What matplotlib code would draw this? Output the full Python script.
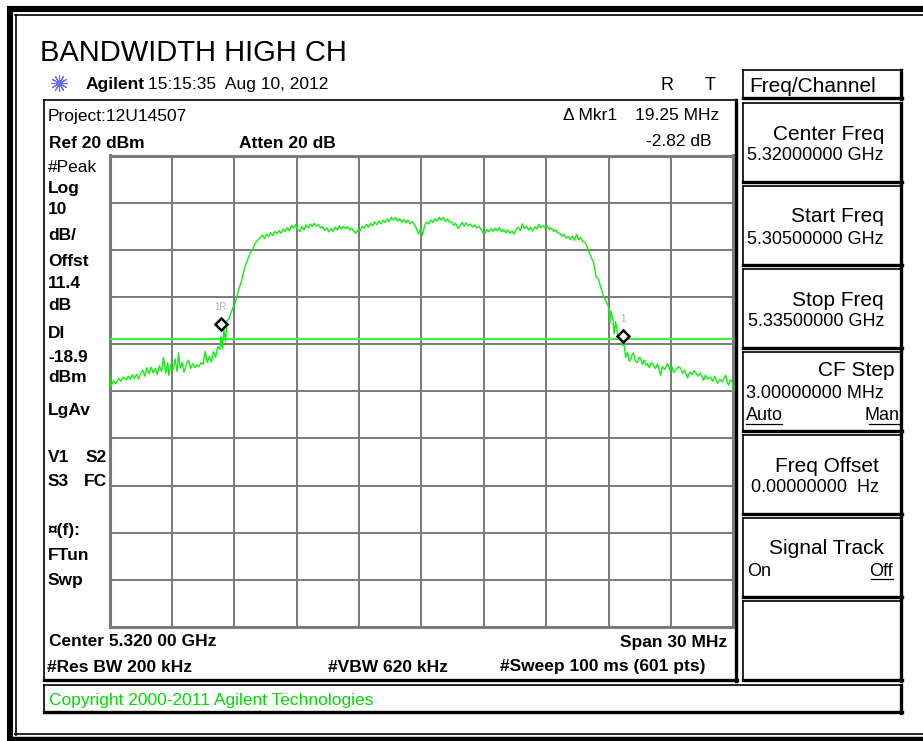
# %% Imports

import matplotlib

matplotlib.use("Agg")
import matplotlib.pyplot as plt

plt.rcParams["font.family"] = ["Liberation Sans", "DejaVu Sans"]

# %% Trace data (offset from start freq in MHz, level in dBm)

START_GHZ = 5.305
SPAN_MHZ = 30
REF_DBM = 20
DB_PER_DIV = 10
DISPLAY_LINE_DBM = -18.9

freq_mhz = [
    0.00, 0.05, 0.20, 0.30, 0.45, 0.55, 0.65, 0.80, 0.90, 1.00,
    1.10, 1.20, 1.30, 1.40, 1.50, 1.60, 1.70, 1.80, 1.90, 2.00,
    2.10, 2.20, 2.30, 2.40, 2.50, 2.60, 2.70, 2.80, 2.85, 2.95,
    3.05, 3.15, 3.25, 3.32, 3.40, 3.50, 3.58, 3.70, 3.80, 3.90,
    4.00, 4.10, 4.20, 4.30, 4.40, 4.50, 4.60, 4.70, 4.80, 4.90,
    5.00, 5.10, 5.20, 5.30, 5.36, 5.42, 5.50, 5.58, 5.65, 5.75,
    5.85, 5.96, 6.05, 6.20, 6.35, 6.50, 6.63, 6.75, 6.88, 7.00,
    7.12, 7.25, 7.36, 7.45, 7.55, 7.65, 7.75, 7.85, 7.95, 8.05,
    8.15, 8.25, 8.35, 8.45, 8.55, 8.65, 8.75, 8.85, 8.95, 9.05,
    9.15, 9.25, 9.35, 9.45, 9.55, 9.65, 9.75, 9.85, 9.95, 10.05,
    10.15, 10.25, 10.35, 10.45, 10.55, 10.65, 10.75, 10.85, 10.95, 11.05,
    11.15, 11.25, 11.35, 11.45, 11.55, 11.65, 11.75, 11.85, 11.95, 12.05,
    12.15, 12.25, 12.35, 12.45, 12.55, 12.65, 12.75, 12.85, 12.95, 13.05,
    13.15, 13.25, 13.35, 13.45, 13.55, 13.65, 13.75, 13.85, 13.95, 14.05,
    14.15, 14.25, 14.35, 14.45, 14.55, 14.65, 14.75, 14.85, 14.95, 15.05,
    15.15, 15.25, 15.35, 15.45, 15.55, 15.65, 15.75, 15.85, 15.95, 16.05,
    16.15, 16.25, 16.35, 16.45, 16.55, 16.65, 16.75, 16.85, 16.95, 17.05,
    17.15, 17.25, 17.35, 17.45, 17.55, 17.65, 17.75, 17.85, 17.95, 18.05,
    18.15, 18.25, 18.35, 18.45, 18.55, 18.65, 18.75, 18.85, 18.95, 19.05,
    19.15, 19.25, 19.35, 19.45, 19.55, 19.65, 19.75, 19.85, 19.95, 20.05,
    20.15, 20.25, 20.35, 20.45, 20.55, 20.65, 20.75, 20.85, 20.95, 21.05,
    21.15, 21.25, 21.35, 21.45, 21.55, 21.65, 21.75, 21.85, 21.95, 22.05,
    22.15, 22.25, 22.35, 22.45, 22.55, 22.65, 22.75, 22.85, 22.95, 23.05,
    23.15, 23.27, 23.40, 23.50, 23.60, 23.70, 23.80, 23.90, 24.00, 24.06,
    24.10, 24.20, 24.26, 24.33, 24.42, 24.50, 24.57, 24.62, 24.66, 24.72,
    24.81, 24.90, 24.98, 25.05, 25.12, 25.19, 25.28, 25.38, 25.46, 25.53,
    25.62, 25.70, 25.80, 25.87, 25.95, 26.05, 26.15, 26.25, 26.35, 26.49,
    26.58, 26.70, 26.83, 26.95, 27.05, 27.12, 27.25, 27.35, 27.45, 27.55,
    27.65, 27.79, 27.90, 28.00, 28.10, 28.17, 28.30, 28.40, 28.56, 28.65,
    28.75, 28.89, 29.00, 29.10, 29.23, 29.35, 29.45, 29.55, 29.62, 29.70,
    29.76, 29.85, 29.95, 30.00,
]

level_dbm = [
    -25.9, -29.1, -27.8, -28.4, -27.3, -27.9, -27.0, -27.6, -26.8, -27.5,
    -26.5, -27.3, -26.4, -27.4, -26.2, -25.5, -26.8, -25.0, -26.3, -24.9,
    -26.1, -25.2, -26.4, -24.6, -25.8, -22.8, -26.2, -24.0, -26.6, -24.3,
    -25.5, -23.2, -25.8, -21.9, -25.1, -23.9, -26.0, -24.2, -23.4, -25.2,
    -24.1, -25.0, -24.4, -24.8, -23.9, -24.3, -21.5, -23.9, -22.6, -23.8,
    -21.6, -22.8, -20.5, -21.2, -18.4, -21.0, -17.0, -19.5, -15.0, -14.6,
    -13.2, -12.0, -11.2, -8.6, -6.5, -3.8, -2.2, -0.8, 0.0, 1.4,
    2.0, 2.6, 3.1, 2.4, 3.3, 2.8, 3.6, 3.0, 3.9, 3.4,
    4.1, 3.5, 4.4, 3.9, 4.7, 4.0, 5.2, 4.6, 5.4, 4.3,
    3.9, 4.9, 4.2, 5.3, 4.6, 5.5, 4.9, 5.6, 5.0, 5.4,
    4.6, 4.9, 4.1, 4.6, 3.8, 4.5, 3.9, 4.8, 4.2, 5.1,
    4.4, 5.0, 4.5, 4.9, 4.2, 4.6, 3.9, 3.5, 4.3, 4.0,
    5.0, 4.6, 5.4, 4.8, 5.6, 5.1, 5.9, 5.3, 6.1, 5.5,
    6.3, 5.8, 6.5, 6.0, 6.9, 6.3, 6.8, 6.1, 6.6, 5.9,
    6.4, 5.7, 6.3, 5.5, 6.0, 5.4, 4.6, 3.4, 4.5, 3.1,
    5.2, 5.9, 5.5, 6.3, 5.8, 6.6, 6.1, 6.9, 6.3, 6.8,
    6.0, 6.5, 5.8, 5.9, 5.2, 5.6, 4.5, 5.1, 5.8, 5.0,
    5.7, 5.1, 5.5, 4.8, 5.3, 4.6, 5.0, 4.4, 3.7, 3.5,
    4.3, 3.8, 4.5, 3.9, 4.6, 4.0, 4.7, 3.8, 4.3, 3.6,
    4.2, 3.5, 4.0, 3.3, 4.4, 4.8, 4.1, 5.5, 4.5, 5.0,
    4.2, 4.8, 4.0, 4.9, 4.4, 5.4, 4.7, 5.1, 4.6, 5.0,
    4.3, 4.6, 3.9, 4.2, 3.6, 3.5, 2.9, 3.3, 2.5, 2.8,
    2.2, 2.9, 2.0, 3.3, 2.1, 2.6, 1.8, 1.6, 0.8, -0.5,
    -1.5, -2.7, -5.8, -6.2, -7.6, -9.2, -10.3, -11.2, -12.2, -15.5,
    -13.0, -14.6, -17.8, -15.2, -17.7, -18.4, -19.2, -18.8, -20.3, -19.5,
    -22.8, -21.7, -23.6, -23.4, -22.3, -21.9, -23.6, -23.9, -22.8, -23.0,
    -24.3, -23.4, -24.5, -24.1, -25.0, -23.9, -24.5, -25.2, -24.2, -26.6,
    -24.8, -25.4, -24.1, -25.6, -24.9, -26.0, -25.3, -24.8, -25.1, -26.2,
    -25.5, -27.2, -25.9, -26.5, -25.6, -26.0, -26.8, -26.1, -27.7, -26.6,
    -27.4, -27.0, -27.9, -26.8, -28.3, -27.5, -28.0, -27.2, -26.6, -28.1,
    -28.7, -27.6, -28.1, -30.4,
]

# markers: reference (1R) and delta marker (1)
marker_freq_mhz = [5.36, 24.71]
marker_dbm = [-15.7, -18.3]
marker_labels = ["1R", "1"]

left_labels = [
    ("#Peak", 167, False), ("Log", 188, True), ("10", 210, True),
    ("dB/", 236, True), ("Offst", 262, True), ("11.4", 283, True),
    ("dB", 306, True), ("DI", 334, True), ("-18.9", 357, True),
    ("dBm", 378, True), ("LgAv", 410, True), ("¤(f):", 531, True),
    ("FTun", 555, True), ("Swp", 580, True),
]

softkeys = [
    ("Center Freq", "5.32000000 GHz"),
    ("Start Freq", "5.30500000 GHz"),
    ("Stop Freq", "5.33500000 GHz"),
    ("CF Step", "3.00000000 MHz"),
    ("Freq Offset", "0.00000000  Hz"),
    ("Signal Track", ""),
    ("", ""),
]

# %% Figure in screen pixels

W, H = 923, 741
fig = plt.figure(figsize=(W / 100, H / 100), dpi=100)
bg = fig.add_axes([0, 0, 1, 1])
bg.set_xlim(0, W)
bg.set_ylim(H, 0)
bg.axis("off")

FS = 12.5  # small screen font


def box3d(x0, y0, x1, y1):
    bg.plot([x0, x1], [y0, y0], color="black", lw=1.2)
    bg.plot([x0, x0], [y0, y1], color="black", lw=1.2)
    bg.plot([x1, x1], [y0, y1 + 1], color="black", lw=2.4)
    bg.plot([x0, x1 + 1], [y1, y1], color="black", lw=2.4)


# outer screen frame (thick + thin)
bg.plot([10, 10], [6, 741], color="black", lw=4.4, solid_capstyle="butt")
bg.plot([7, W], [9, 9], color="black", lw=4.4, solid_capstyle="butt")
bg.plot([7, W], [739, 739], color="black", lw=3.2, solid_capstyle="butt")
bg.plot([15.5, 15.5], [14.5, 734.5], color="black", lw=1.2)
bg.plot([15, W], [15, 15], color="black", lw=1.2)
bg.plot([15, W], [734, 734], color="black", lw=1.2)

bg.text(40, 53, "BANDWIDTH HIGH CH", fontsize=21, va="center", ha="left")
bg.plot([59], [83], marker=(12, 2, 0), markersize=12, color="#6a6aff", mew=0.8)
bg.text(86, 84, "Agilent", fontsize=12.5, va="center", fontweight="bold")
bg.text(148, 84, "15:15:35  Aug 10, 2012", fontsize=12.5, va="center")
bg.text(667, 86, "R", fontsize=13, va="center", ha="center")
bg.text(710, 86, "T", fontsize=13, va="center", ha="center")

# main display box
box3d(44, 100, 736, 680)
bg.text(48, 116, "Project:12U14507", fontsize=FS, va="center")
bg.text(49, 143, "Ref 20 dBm", fontsize=FS, va="center", fontweight="bold")
bg.text(239, 143, "Atten 20 dB", fontsize=FS, va="center", fontweight="bold")
bg.text(563, 116, "\u0394 Mkr1", fontsize=FS, va="center")
bg.text(719, 116, "19.25 MHz", fontsize=FS, va="center", ha="right")
bg.text(711, 141, "-2.82 dB", fontsize=FS, va="center", ha="right")

for txt, y, bold in left_labels:
    bg.text(48, y, txt, fontsize=FS, va="center",
            fontweight="bold" if bold else "normal")
bg.text(48, 458, "V1", fontsize=FS, va="center", fontweight="bold")
bg.text(86, 458, "S2", fontsize=FS, va="center", fontweight="bold")
bg.text(48, 481, "S3", fontsize=FS, va="center", fontweight="bold")
bg.text(84, 481, "FC", fontsize=FS, va="center", fontweight="bold")

bg.text(49, 642, "Center 5.320 00 GHz", fontsize=FS, va="center", fontweight="bold")
bg.text(727, 642, "Span 30 MHz", fontsize=FS, va="center", ha="right", fontweight="bold")
bg.text(47, 667, "#Res BW 200 kHz", fontsize=FS, va="center", fontweight="bold")
bg.text(328, 667, "#VBW 620 kHz", fontsize=FS, va="center", fontweight="bold")
bg.text(706, 667, "#Sweep 100 ms (601 pts)", fontsize=FS, va="center", ha="right",
        fontweight="bold")

# copyright bar
box3d(44, 685, 901, 712)
bg.text(49, 701, "Copyright 2000-2011 Agilent Technologies", fontsize=FS,
        va="center", color="#00dd00")

# softkey menu
box3d(743, 70, 901, 98)
bg.text(749, 86, "Freq/Channel", fontsize=15, va="center")
top = 103
for title, value in softkeys:
    box3d(743, top, 901, top + 79)
    right = 879 if title == "Freq Offset" else 884
    if title == "CF Step":
        bg.text(895, top + 19, title, fontsize=15, va="center", ha="right")
        bg.text(right, top + 42, value, fontsize=13, va="center", ha="right")
    else:
        if title:
            bg.text(right, top + 31, title, fontsize=15, va="center", ha="right")
        if value:
            bg.text(right, top + 53, value, fontsize=13, va="center", ha="right")
    top += 83
bg.text(746, 416, "Auto", fontsize=13, va="center")
bg.plot([746, 782], [424, 424], color="black", lw=0.9)
bg.text(900, 416, "Man", fontsize=13, va="center", ha="right")
bg.plot([869, 900], [424, 424], color="black", lw=0.9)
bg.text(747, 571, "On", fontsize=13, va="center")
bg.text(893, 571, "Off", fontsize=13, va="center", ha="right")
bg.plot([871, 893], [579, 579], color="black", lw=0.9)

# %% Trace graticule

gx0, gx1, gy0, gy1 = 109.5, 733.5, 155.5, 627
ax = fig.add_axes([gx0 / W, 1 - gy1 / H, (gx1 - gx0) / W, (gy1 - gy0) / H])
ax.set_xlim(0, SPAN_MHZ)
ax.set_ylim(REF_DBM - 10 * DB_PER_DIV, REF_DBM)
ax.set_xticks([i * SPAN_MHZ / 10 for i in range(11)])
ax.set_yticks([REF_DBM - i * DB_PER_DIV for i in range(11)])
ax.grid(True, color="#7a7a7a", lw=1.4)
ax.tick_params(length=0, labelbottom=False, labelleft=False)
for s in ax.spines.values():
    s.set_color("#7a7a7a")
    s.set_linewidth(2.2)

ax.axhline(DISPLAY_LINE_DBM, color="#3cf03c", lw=1.6, zorder=3)
ax.plot(freq_mhz, level_dbm, color="#10f010", lw=1.0, zorder=4)
ax.plot(marker_freq_mhz, marker_dbm, linestyle="none", marker="D", markersize=6.5,
        markerfacecolor="white", markeredgecolor="black", mew=1.8, zorder=5)
for f, v, lab in zip(marker_freq_mhz, marker_dbm, marker_labels):
    ax.text(f, v + 2.6, lab, fontsize=7, color="#b0b0b0", ha="center", va="bottom",
            zorder=5)

fig.savefig("out.png", dpi=100)
